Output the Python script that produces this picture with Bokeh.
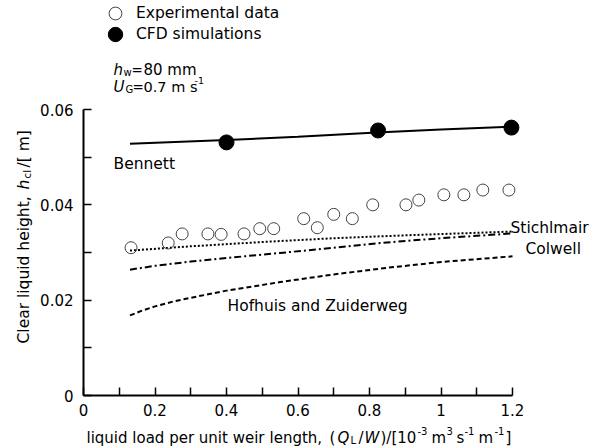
import math
from bokeh.plotting import figure
from bokeh.models import (Range1d, FixedTicker, CustomJSTickFormatter, Label,
                          Legend, LegendItem, LinearAxis)
from bokeh.embed import file_html
from bokeh.resources import INLINE

# ---------------- data ----------------
exp_x = [0.133, 0.237, 0.276, 0.348, 0.385, 0.449, 0.493, 0.532, 0.616, 0.654,
         0.700, 0.752, 0.809, 0.902, 0.938, 1.008, 1.064, 1.117, 1.190]
exp_y = [0.0310, 0.0320, 0.0339, 0.0339, 0.0338, 0.0339, 0.0350, 0.0350, 0.0371, 0.0352,
         0.0380, 0.0371, 0.0400, 0.0400, 0.0410, 0.0421, 0.0421, 0.0431, 0.0431]

cfd_x = [0.40, 0.824, 1.197]
cfd_y = [0.0531, 0.0556, 0.0562]

bennett_x = [0.13, 0.40, 0.60, 0.82, 1.00, 1.20]
bennett_y = [0.0528, 0.0536, 0.0543, 0.0552, 0.0558, 0.0564]

stichlmair_x = [0.13, 0.30, 0.50, 0.70, 0.90, 1.20]
stichlmair_y = [0.0304, 0.0313, 0.0322, 0.0330, 0.0336, 0.0344]

colwell_x = [0.13, 0.20, 0.30, 0.45, 0.55, 0.70, 0.83, 1.00, 1.20]
colwell_y = [0.0264, 0.0272, 0.0281, 0.0292, 0.0299, 0.0310, 0.0320, 0.0330, 0.0340]

hofhuis_x = [0.13, 0.16, 0.20, 0.25, 0.30, 0.40, 0.55, 0.70, 0.85, 1.00, 1.20]
hofhuis_y = [0.0168, 0.0177, 0.0187, 0.0197, 0.0205, 0.0220, 0.0238, 0.0254, 0.0268,
             0.0280, 0.0292]

x_ticks = [0, 0.2, 0.4, 0.6, 0.8, 1.0, 1.2]
x_minor = [0.1, 0.3, 0.5, 0.7, 0.9, 1.1]
y_ticks = [0, 0.02, 0.04, 0.06]
y_minor = [0.01, 0.03, 0.05]

# ---------------- layout ----------------
W, H = 590, 447
OX, OY = 83, 395      # pixel position of the data origin
SX = 357.5            # px per x unit
SY = 286 / 0.06       # px per y unit
FONT = "DejaVu Sans"

def dx(px):  # pixel -> data x
    return (px - OX) / SX

def dy(py):  # pixel -> data y
    return (OY - py) / SY

p = figure(width=W, height=H,
           x_range=Range1d(dx(0), dx(W)), y_range=Range1d(dy(H), dy(0)),
           output_backend="svg", toolbar_location=None,
           x_axis_location=None, y_axis_location=None,
           min_border_left=0, min_border_right=0, min_border_top=0,
           min_border_bottom=0)
p.outline_line_color = None
p.xgrid.visible = False
p.ygrid.visible = False
p.background_fill_color = "white"

fmt = "return String(Number(tick.toFixed(3)));"
xax = LinearAxis(fixed_location=0)
yax = LinearAxis(fixed_location=0)
for ax, ticks, minor, bounds, standoff in ((xax, x_ticks, x_minor, (0, 1.2), 8),
                                           (yax, y_ticks, y_minor, (0, 0.06), 10)):
    ax.ticker = FixedTicker(ticks=ticks, minor_ticks=minor)
    ax.formatter = CustomJSTickFormatter(code=fmt)
    ax.bounds = bounds
    ax.axis_line_width = 2
    ax.axis_line_color = "black"
    ax.major_tick_in = 8
    ax.major_tick_out = 0
    ax.minor_tick_in = 8
    ax.minor_tick_out = 0
    ax.major_tick_line_width = 1.5
    ax.minor_tick_line_width = 1.5
    ax.major_tick_line_color = "black"
    ax.minor_tick_line_color = "black"
    ax.major_label_text_font = FONT
    ax.major_label_text_font_size = "15px"
    ax.major_label_text_color = "black"
    ax.major_label_standoff = standoff
p.add_layout(xax, "below")
p.add_layout(yax, "left")

# ---------------- correlation lines ----------------
p.line(bennett_x, bennett_y, line_color="black", line_width=2)
p.line(stichlmair_x, stichlmair_y, line_color="black", line_width=2, line_dash="2 2")
p.line(colwell_x, colwell_y, line_color="black", line_width=2, line_dash="7 3 2 3")
p.line(hofhuis_x, hofhuis_y, line_color="black", line_width=2, line_dash="5 3")

exp_r = p.scatter(exp_x, exp_y, marker="circle", size=12, fill_color=None,
                  line_color="#444444", line_width=1)
cfd_r = p.scatter(cfd_x, cfd_y, marker="circle", size=15, fill_color="black",
                  line_color="black")

# ---------------- legends (two, one item each) ----------------
leg1 = Legend(items=[LegendItem(label="Experimental data", renderers=[exp_r])],
              location=(99, H - 29), glyph_width=32, glyph_height=32, label_standoff=5)
leg2 = Legend(items=[LegendItem(label="CFD simulations", renderers=[cfd_r])],
              location=(97, H - 52), glyph_width=36, glyph_height=36, label_standoff=3)
for lg in (leg1, leg2):
    lg.padding = 0
    lg.margin = 0
    lg.spacing = 0
    lg.border_line_color = None
    lg.background_fill_alpha = 0
    lg.label_text_font = FONT
    lg.label_text_font_size = "15.5px"
    lg.label_text_color = "black"
    p.add_layout(lg)

# ---------------- text annotations ----------------
def txt(text, px, py, size=15.5, style="normal", angle=0.0):
    p.add_layout(Label(x=dx(px), y=dy(py), text=text, text_font=FONT,
                       text_font_size=f"{size}px", text_font_style=style,
                       text_baseline="alphabetic", text_align="left",
                       angle=angle, text_color="black"))

txt("Bennett", 113, 163)
txt("Stichlmair", 510, 227)
txt("Colwell", 525, 248)
txt("Hofhuis and Zuiderweg", 227, 305)

# h_w = 80 mm
txt("h", 113, 69, size=15, style="italic")
txt("w", 123, 72, size=10)
txt("=", 131, 69, size=13.5)
txt("80 mm", 143, 69, size=15)
# U_G = 0.7 m s-1
txt("U", 113, 86, size=15, style="italic")
txt("G", 125, 89, size=10)
txt("=", 132, 86, size=13.5)
txt("0.7 m s", 143, 86, size=14.5)
txt("-1", 194, 80, size=9.5)

# x axis title
XB = 437
FS = 15
txt("liquid load per unit weir", 86, XB, size=FS)
txt("length,", 269, XB, size=FS)
txt("(", 329, XB, size=FS)
txt("Q", 337, XB, size=FS, style="italic")
txt("L", 350, XB + 3, size=10)
txt("/", 358, XB, size=FS)
txt("W", 364, XB, size=FS, style="italic")
txt(")/[10", 380, XB, size=FS)
txt("-3", 417, XB - 7, size=10)
txt("m", 431, XB, size=FS)
txt("3", 446, XB - 7, size=10)
txt("s", 456, XB, size=FS)
txt("-1", 464, XB - 7, size=10)
txt("m", 478, XB, size=FS)
txt("-1", 494, XB - 7, size=10)
txt("]", 505, XB, size=FS)

# y axis title (rotated)
A = math.pi / 2
txt("Clear liquid height,", 23, 343, angle=A)
txt("h", 23, 189, style="italic", angle=A)
txt("cl", 26, 178, size=10.5, angle=A)
txt("/[ m]", 23, 167, angle=A)

open("out.html", "w").write(file_html(p, INLINE))
